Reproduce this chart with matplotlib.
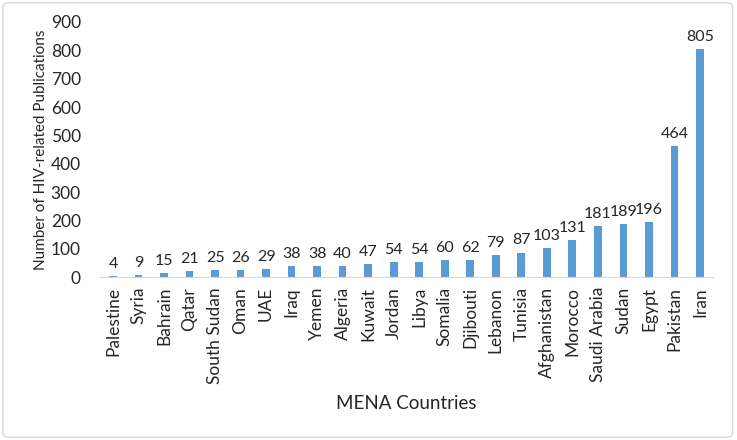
import matplotlib
matplotlib.use("Agg")
import matplotlib.pyplot as plt
from matplotlib.patches import FancyBboxPatch

countries = ["Palestine", "Syria", "Bahrain", "Qatar", "South Sudan", "Oman", "UAE",
             "Iraq", "Yemen", "Algeria", "Kuwait", "Jordan", "Libya", "Somalia",
             "Djibouti", "Lebanon", "Tunisia", "Afghanistan", "Morocco",
             "Saudi Arabia", "Sudan", "Egypt", "Pakistan", "Iran"]
publications = [4, 9, 15, 21, 25, 26, 29, 38, 38, 40, 47, 54, 54, 60, 62, 79, 87,
                103, 131, 181, 189, 196, 464, 805]

plt.rcParams['font.family'] = ['Lato', 'DejaVu Sans']

fig = plt.figure(figsize=(7.37, 4.4), dpi=100)
ax = fig.add_axes([0.136, 0.37, 0.831, 0.58])

x = range(len(countries))
bars = ax.bar(x, publications, width=0.3, color='#5B9BD5')
for i, v in zip(x, publications):
    ax.text(i, v + 18, str(v), ha='center', va='bottom', fontsize=11.5, color='#262626')

ax.set_xlim(-0.5, len(countries) - 0.5)
ax.set_ylim(0, 900)
ax.set_yticks(range(0, 901, 100))
ax.set_xticks(list(x))
ax.set_xticklabels(countries, rotation=90, color='#262626')
ax.tick_params(axis='both', length=0, labelsize=12.5, labelcolor='#262626')
ax.tick_params(axis='x', pad=7)
ax.tick_params(axis='y', pad=14)

for s in ['top', 'right', 'left']:
    ax.spines[s].set_visible(False)
ax.spines['bottom'].set_color('#d9d9d9')

ax.set_ylabel("Number of HIV-related Publications", fontsize=11, color='#262626', labelpad=2)
ax.set_xlabel("MENA Countries", fontsize=13.5, color='#262626', labelpad=8)

# light frame round the chart
frame = FancyBboxPatch((0.004, 0.006), 0.99, 0.988, boxstyle="round,pad=0,rounding_size=0.01",
                       transform=fig.transFigure, fill=False, edgecolor='#d9d9d9', linewidth=1)
fig.patches.append(frame)

fig.savefig("out.png", dpi=100, facecolor='white')
